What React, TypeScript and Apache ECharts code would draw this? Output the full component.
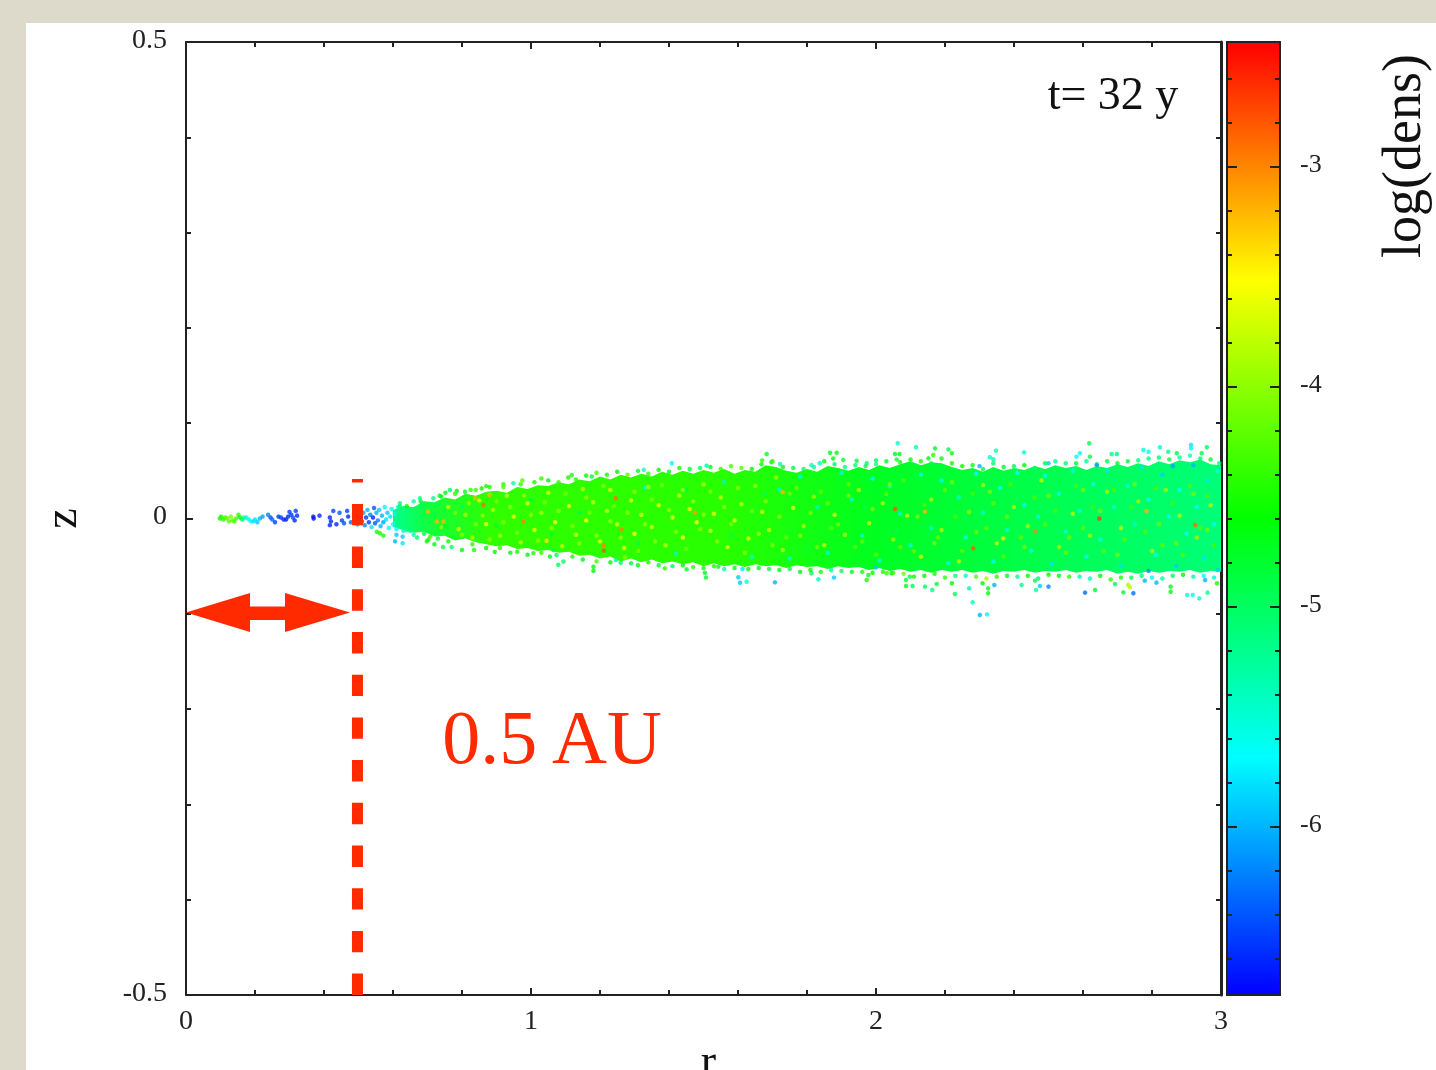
import React, { useEffect, useRef } from "react";
import * as echarts from "echarts";

type P = number[];
const jetStops = ["#0000ff", "#00ffff", "#00ff00", "#ffff00", "#ff0000"];
const densMin = -6.765;
const densMax = -2.433;
const densMajor = [-6, -5, -4, -3];
const densMinor = [-6.6, -6.4, -6.2, -6, -5.8, -5.6, -5.4, -5.2, -5, -4.8, -4.6, -4.4, -4.2, -4, -3.8, -3.6, -3.4, -3.2, -3, -2.8, -2.6];

// dense core of the disc: envelope (r, upper z, lower z)
const bandR = [.6,
.63,.66,.69,.72,.75, .78,.81,.84,.87,.9, .93,.96,.99,1.02,1.05, 1.08,1.11,1.14,1.17,1.2, 1.23,1.26,1.29,1.32,1.35, 1.38,1.41,1.44,1.47,1.5, 1.53,1.56,1.59,1.62,1.65, 1.68,1.71,1.74,1.77,1.8,
1.83,1.86,1.89,1.92,1.95, 1.98,2.01,2.04,2.07,2.1, 2.13,2.16,2.19,2.22,2.25, 2.28,2.31,2.34,2.37,2.4, 2.43,2.46,2.49,2.52,2.55, 2.58,2.61,2.64,2.67,2.7, 2.73,2.76,2.79,2.82,2.85, 2.88,2.91,2.94,2.97,3];
const bandUpper = [.009,
.013,.012,.018,.017,.022, .02,.026,.024,.028,.029, .027,.033,.031,.035,.034, .038,.036,.041,.039,.044, .041,.046,.043,.047,.044, .049,.046,.05,.047,.051, .048,.052,.047,.051,.049, .056,.054,.05,.048,.052,
.049,.055,.053,.05,.054, .051,.056,.053,.057,.06, .056,.059,.058,.054,.051, .053,.049,.054,.05,.053, .051,.055,.052,.056,.053, .055,.051,.055,.053,.057, .054,.058,.055,.06,.057, .061,.059,.062,.057,.056];
const bandLower = [-.009,
-.012,-.015,-.014,-.019,-.018, -.023,-.021,-.025,-.027,-.029, -.028,-.032,-.031,-.034,-.033, -.036,-.035,-.039,-.038,-.042, -.04,-.045,-.042,-.046,-.043, -.047,-.045,-.048,-.046,-.05, -.047,-.05,-.048,-.051,-.048, -.05,-.049,-.052,-.049,-.051,
-.05,-.053,-.05,-.052,-.051, -.054,-.052,-.055,-.053,-.056, -.054,-.057,-.054,-.056,-.054, -.057,-.055,-.058,-.055,-.056, -.054,-.057,-.055,-.056,-.054, -.057,-.055,-.056,-.054,-.058, -.056,-.058,-.055,-.057,-.055, -.056,-.054,-.057,-.055,-.056];

const innerTail: P[] = [
[.098,0,-4.5],[.102,.002,-4.5],[.108,-.001,-4.4],[.114,.001,-4.3],[.12,0,-4.2],[.125,-.003,-4.2],[.13,.002,-4.1],[.135,-.002,-4.2],[.14,-.003,-4.3],[.145,0,-4.3],[.152,.004,-4.4],[.157,.001,-4.6],[.163,-.001,-5],[.168,.001,-5.3],[.175,.001,-5.5],[.182,-.001,-5.6],[.188,-.003,-5.7],[.195,-.003,-5.8],[.2,-.001,-5.8],[.207,-.004,-5.9],[.214,0,-6],[.222,.002,-6.1],[.238,.004,-6.2],[.245,.001,-6.4],[.25,-.001,-6.3],[.258,-.004,-6.5],[.268,.002,-6.5],[.275,.001,-6.5],[.283,-.001,-6.6],[.29,-.001,-6.6],[.296,.002,-6.6],[.3,.007,-6.5],[.305,.004,-6.5],[.31,.001,-6.4],[.315,-.002,-6.6],[.318,.008,-6.5],[.322,.003,-6.6],
[.369,.002,-6.7],[.37,0,-6.7],[.387,.003,-6.6],[.427,.008,-6.5],[.417,.001,-6.6],[.42,-.003,-6.6],[.417,-.007,-6.6],[.436,-.006,-6.6],[.445,.006,-6.4],[.452,-.002,-6.5],[.458,-.005,-6.4],[.467,.008,-6.5],[.47,.002,-6.6],[.478,-.004,-6.3],[.49,.003,-6.5],[.497,-.006,-6.2],[.5,.007,-6.5],
];
const innerCloud: P[] = [
[.505,.002,-6.4],[.51,-.003,-6.3],[.514,.006,-6.1],[.518,-.007,-6.2],[.522,.001,-6.5],[.526,.009,-6],[.53,-.004,-6.5],[.534,.004,-6.2],[.538,-.009,-5.8],[.542,.001,-6.6],[.545,.011,-6.4],[.548,-.005,-6.4],[.552,.006,-6],[.556,-.002,-6.2],[.56,.009,-5.9],[.564,-.008,-6],[.568,.003,-6],[.572,-.004,-6.1],[.576,.012,-5.7],[.58,-.001,-5.8],[.584,.006,-5.9],[.588,-.01,-5.6],[.592,.002,-5.8],[.596,.01,-5.6],[.6,-.006,-5.7],[.605,.005,-5.5],[.61,-.011,-5.6],[.615,.012,-5.5],[.62,.016,-5.2],[.63,-.013,-5.4],[.64,.013,-4.6],
[.562,-.0155,-4.5],[.553,-.014,-4.5],[.572,-.018,-4.5],[.61,-.017,-5.9],[.606,-.024,-6],[.628,-.019,-5.9],[.628,-.026,-5.8],[.703,-.022,-4.5],[.708,-.019,-4.4],[.698,-.024,-4.6],[.66,.018,-5.3],[.678,.0212,-5.2],[.717,.0212,-5.2],[.765,.0299,-5],[.809,.028,-4.8],[.857,.0316,-4.6],[.949,.037,-5.3],[1.108,.043,-4.5],[1.118,.0456,-4.5],
[.65,-.013,-5.2],[.66,-.017,-5.4],[.67,-.02,-5.1],[.685,.016,-5],[.69,-.016,-4.9],[.72,-.027,-4.7],[.735,.024,-4.8],[.745,-.03,-4.9],[.752,.027,-4.7],[.77,-.03,-5],[.785,.029,-4.6],[.8,-.033,-4.6],[.825,.03,-4.4],[.835,-.033,-4.5],[.87,.034,-4.5],[.895,-.035,-4.6],[.92,.036,-4.4],[.94,-.036,-4.7],[.975,.04,-4.3],[1.007,-.0363,-4.5],[1.03,.042,-4.4],[1.055,-.04,-4.6],[1.065,-.033,-4.8],[1.074,-.0383,-5],[1.079,-.0486,-5],[1.094,-.0451,-5],
];
const topOutliers: P[] = [
[1.408,.058,-5.7],[1.509,.0555,-5.3],[1.327,.051,-5.4],[1.176,.044,-4.8],[1.683,.0677,-4.8],[1.722,.0572,-5.3],[1.697,.059,-4.8],[1.668,.057,-4.7],[1.867,.069,-4.7],[1.886,.069,-4.7],[1.876,.063,-4.7],[1.905,.0615,-4.8],[1.813,.056,-5.4],[1.837,.058,-5.4],[1.944,.0606,-4.9],[1.973,.058,-5],[2,.061,-5],[2.063,.0789,-5.5],[2.055,.0677,-4.7],[2.068,.0677,-4.7],[2.06,.062,-4.9],
[2.116,.0747,-5.3],[2.171,.0736,-4.7],[2.21,.0725,-4.9],[2.22,.0684,-4.5],[2.166,.0667,-4.4],[2.152,.0631,-4.7],[2.348,.0712,-5.3],[2.33,.0642,-5.5],[2.34,.0621,-5.4],[2.429,.0694,-5.5],[2.618,.0789,-4.9],[2.591,.0684,-5.6],[2.581,.0649,-5.6],[2.683,.0677,-5.2],[2.698,.0677,-5.1],[2.62,.0649,-4.9],[2.775,.0719,-5.5],[2.79,.0701,-5.6],[2.823,.0747,-5.5],[2.847,.0701,-5.2],[2.872,.0684,-4.9],[2.913,.0771,-5.8],[2.913,.0736,-5.7],[2.959,.0747,-5],[2.944,.0684,-4.9],
];
const bottomOutliers: P[] = [
[1.181,-.0506,-4.6],[1.181,-.055,-4.6],[1.26,-.0464,-5],[1.246,-.0436,-5.3],[1.272,-.041,-4],[1.388,-.0523,-4.4],[1.451,-.0534,-4.8],[1.504,-.0569,-4.8],[1.507,-.062,-4.8],[1.543,-.0505,-4.7],[1.601,-.0616,-5.9],[1.613,-.053,-5.8],[1.606,-.0674,-5.9],[1.625,-.0664,-5.5],[1.707,-.067,-6],[1.813,-.0575,-5],[1.833,-.0638,-5.4],[1.878,-.062,-5.9],[1.973,-.0645,-4.5],[1.978,-.0593,-4.7],[2,-.0514,-5.9],[2.031,-.0575,-4.4],[2.045,-.0575,-4.6],[2.087,-.0645,-4.8],[2.087,-.0709,-4.8],[2.098,-.061,-4.9],
[2.106,-.0708,-5],[2.142,-.0715,-5],[2.163,-.075,-5.2],[2.176,-.0687,-4.9],[2.22,-.068,-4.7],[2.229,-.0792,-5],[2.27,-.0733,-5.3],[2.28,-.0879,-5.4],[2.301,-.1013,-6],[2.322,-.1006,-5.7],[2.309,-.068,-4.6],[2.325,-.0733,-4.7],[2.325,-.0785,-4.7],[2.343,-.0698,-6],[2.422,-.0698,-5.2],[2.461,-.0652,-5],[2.464,-.075,-5.3],[2.475,-.0708,-5.9],[2.5,-.0715,-6.2],[2.606,-.0778,-6.3],[2.635,-.075,-4.8],[2.693,-.0687,-5],[2.717,-.0775,-4.8],[2.731,-.0698,-3.9],[2.736,-.0722,-3.8],[2.746,-.0785,-6.3],[2.779,-.0652,-6],[2.813,-.0673,-6],[2.854,-.0715,-4.7],[2.854,-.0768,-4.7],[2.902,-.0803,-5.6],[2.918,-.0803,-5.6],[2.937,-.0838,-5.5],[2.961,-.0778,-5.2],[2.954,-.0645,-6],[2.988,-.068,-4.5],
];
const hotSpecks: P[] = [
[2.647,0,-2.7],[2.925,-.0068,-2.9],[2.461,-.0132,-3],[2.282,-.0313,-2.8],[2.142,.0072,-3.2],[2.369,-.0209,-3.4],[2.784,.0079,-3.2],[1.245,.0212,-2.9],[1.263,-.012,-3],[1.211,-.0279,-3],[1.211,-.0337,-2.8],[1.475,.0062,-3.1],[2.055,.01,-2.8],[1.73,.0275,-3.2],[.862,.0142,-2.9],[.727,-.0033,-3.2],[.746,-.0033,-3.2],[.702,.0072,-3.2],[.978,-.0033,-3],[.838,.0212,-3.2],[.88,.0247,-3.2],[1.045,-.0233,-3.4],
];
const yellowSpecks: P[] = [
[.76,.012,-3.8],[.79,-.011,-3.7],[.81,.004,-3.9],[.83,-.02,-3.8],[.85,.019,-3.7],[.87,-.006,-3.6],[.89,.009,-3.8],[.91,-.018,-3.9],[.93,.024,-3.8],[.95,.002,-3.6],[.97,-.025,-3.8],[.99,.016,-3.7],[1.01,-.012,-3.6],[1.03,.006,-3.9],[1.05,.027,-3.7],[1.07,-.004,-3.6],[1.09,-.029,-3.8],[1.11,.013,-3.6],[1.13,-.017,-3.7],[1.15,.031,-3.8],[1.16,-.002,-3.5],[1.18,.017,-3.7],[1.2,-.024,-3.6],[1.22,.008,-3.8],[1.23,.03,-3.7],[1.25,-.006,-3.7],[1.27,-.031,-3.6],[1.29,.019,-3.7],[1.3,-.016,-3.5],[1.32,.004,-3.7],[1.34,.033,-3.8],[1.35,-.009,-3.7],[1.37,.014,-3.6],[1.39,-.028,-3.8],[1.41,.001,-3.6],[1.43,.024,-3.7],[1.44,-.02,-3.5],[1.46,.01,-3.6],[1.48,-.004,-3.5],[1.5,.036,-3.8],[1.52,-.013,-3.7],[1.53,.005,-3.6],[1.55,.022,-3.8],[1.57,-.03,-3.7],[1.59,-.002,-3.6],[1.61,.015,-3.8],[1.63,-.021,-3.7],[1.65,.034,-3.9],[1.67,.007,-3.7],[1.69,-.012,-3.8],[1.71,.043,-3.9],[1.73,-.033,-3.8],[1.76,.011,-3.7],[1.79,-.008,-3.8],[1.82,.023,-3.9],[1.85,-.028,-3.8],[1.88,.004,-3.7],[1.91,-.017,-3.9],[1.95,.03,-3.8],[1.98,-.005,-3.8],[2.02,.016,-3.9],[2.05,-.022,-3.9],[2.09,.003,-3.8],[2.13,-.04,-3.7],[2.16,.02,-3.9],[2.19,-.012,-3.8],[2.24,-.045,-3.8],[2.27,.007,-3.9],[2.31,.035,-3.9],[2.35,-.026,-3.8],[2.4,.012,-3.9],[2.44,-.008,-3.9],[2.48,.04,-3.8],[2.53,-.03,-3.9],[2.57,.005,-3.8],[2.62,-.018,-3.9],[2.67,.028,-3.9],[2.71,-.01,-3.8],[2.76,.018,-3.9],[2.8,-.034,-3.8],[2.84,.03,-3.9],[2.88,.003,-3.8],[2.93,-.02,-3.9],[2.97,.014,-3.8],
];
const limeSpecks: P[] = [
[.74,-.009,-4],[.78,.006,-4.1],[.8,-.017,-4],[.82,.016,-4],[.84,-.006,-4.1],[.86,.003,-4],[.88,-.022,-4],[.9,.018,-4.1],[.92,-.004,-4],[.94,.012,-4],[.96,-.015,-4.1],[.98,.024,-4],[1,.004,-4],[1.02,-.023,-4],[1.04,.017,-4.1],[1.06,-.01,-4],[1.08,.008,-4],[1.1,.026,-4.1],[1.12,-.008,-4],[1.14,-.026,-4],[1.16,.022,-4],[1.17,.006,-4.1],[1.19,-.018,-4],[1.21,.034,-4],[1.23,-.003,-4],[1.24,.013,-4.1],[1.26,-.02,-4],[1.28,.006,-4],[1.3,.028,-4],[1.31,-.034,-4.1],[1.33,-.006,-4],[1.35,.02,-4],[1.36,-.024,-4],[1.38,.035,-4.1],[1.4,.009,-4],[1.42,-.014,-4],[1.44,.03,-4],[1.45,-.032,-4.1],[1.47,.018,-4],[1.49,-.011,-4],[1.5,.004,-4],[1.52,.028,-4.1],[1.54,-.024,-4],[1.56,.012,-4],[1.58,-.006,-4.1],[1.6,.032,-4],[1.62,-.036,-4],[1.64,.008,-4.1],[1.66,-.016,-4],[1.68,.018,-4],[1.7,-.028,-4.1],[1.72,.002,-4],[1.75,.026,-4.1],[1.78,-.018,-4],[1.81,.006,-4.1],[1.83,-.03,-4.1],[1.86,.016,-4.1],[1.89,-.006,-4.1],[1.92,.024,-4.1],[1.96,-.024,-4.1],[1.99,.01,-4.1],[2.04,.036,-4.1],[2.07,-.03,-4.1],[2.12,.002,-4.1],[2.17,-.026,-4.1],[2.22,.038,-4.1],[2.29,-.014,-4.1],[2.33,.028,-4.1],[2.38,.002,-4.1],[2.43,-.03,-4.1],[2.5,.024,-4.1],[2.56,-.02,-4.1],[2.6,.03,-4.1],[2.65,.008,-4.1],[2.7,-.038,-4.1],[2.75,.036,-4.1],[2.82,-.006,-4.1],[2.87,-.026,-4.1],[2.92,.026,-4.1],[2.96,-.012,-4.1],
];
const cyanSpecks: P[] = [
[1.33,.032,-5.5],[1.42,-.037,-5.4],[1.56,.038,-5.4],[1.64,-.04,-5.5],[1.72,.03,-5.5],[1.75,-.042,-5.5],[1.78,.044,-5.6],[1.83,.012,-5.4],[1.86,-.036,-5.6],[1.9,.048,-5.6],[1.93,.02,-5.5],[1.96,-.018,-5.5],[1.99,.042,-5.7],[2.01,-.044,-5.6],[2.04,.034,-5.6],[2.07,.005,-5.5],[2.1,-.028,-5.6],[2.13,.046,-5.6],[2.16,-.01,-5.5],[2.19,.04,-5.7],[2.21,-.047,-5.6],[2.24,.022,-5.5],[2.26,-.02,-5.6],[2.29,.047,-5.7],[2.31,.006,-5.5],[2.34,-.045,-5.7],[2.36,.032,-5.6],[2.38,-.012,-5.5],[2.41,.048,-5.7],[2.43,.014,-5.6],[2.45,-.034,-5.6],[2.47,.002,-5.5],[2.49,.045,-5.7],[2.51,-.048,-5.8],[2.53,.026,-5.6],[2.55,-.014,-5.5],[2.57,.05,-5.7],[2.59,.008,-5.6],[2.61,-.04,-5.7],[2.63,.036,-5.6],[2.65,-.022,-5.6],[2.67,.05,-5.8],[2.69,.012,-5.5],[2.71,-.05,-5.8],[2.73,.034,-5.6],[2.75,-.006,-5.5],[2.77,.054,-5.8],[2.79,.02,-5.6],[2.81,-.038,-5.7],[2.83,.046,-5.9],[2.85,.002,-5.6],[2.87,-.05,-5.9],[2.88,.03,-5.7],[2.9,-.016,-5.6],[2.92,.056,-6],[2.93,.012,-5.7],[2.95,-.042,-5.8],[2.96,.04,-5.8],[2.98,-.006,-5.7],[2.99,.05,-5.6],[2.99,-.054,-5.9],[2.86,.055,-6.1],[2.79,-.055,-6.2],[2.64,.056,-6.1],[2.5,.058,-5.9],[2.3,.055,-6],
];
const topEdge: P[] = [
[.62,.013,-5],[.68,.018,-4.8],[.74,.023,-4.6],[.78,.026,-4.4],[.84,.03,-4.4],[.88,.033,-4.5],[.92,.033,-4.3],[.97,.036,-4.4],[1.01,.038,-4.5],[1.05,.04,-4.6],[1.08,.038,-4.4],[1.13,.041,-4.5],[1.16,.045,-4.6],[1.19,.048,-4.3],[1.22,.046,-4.5],[1.25,.049,-4.6],[1.28,.046,-4.2],[1.31,.05,-4.8],[1.34,.047,-4.4],[1.37,.051,-4.6],[1.4,.049,-4.7],[1.43,.053,-4.5],[1.46,.052,-4.8],[1.49,.053,-5],[1.52,.054,-4.7],[1.55,.052,-4.4],[1.58,.055,-4.3],[1.61,.053,-4.2],[1.64,.052,-4.6],[1.67,.061,-4.4],[1.7,.06,-4.4],[1.73,.054,-4.7],[1.76,.053,-4.9],[1.79,.052,-5.1],[1.82,.054,-5.3],[1.85,.06,-4.6],[1.88,.057,-5],[1.91,.054,-5.2],[1.94,.056,-5.1],[1.97,.055,-5],[2,.057,-5.2],[2.03,.06,-4.7],[2.07,.059,-4.5],[2.1,.062,-4.6],[2.13,.06,-4.5],[2.16,.058,-4.9],[2.19,.063,-4.7],[2.22,.058,-4.5],[2.25,.055,-4.6],[2.28,.056,-4.7],[2.31,.052,-4.9],[2.34,.058,-5],[2.37,.054,-4.7],[2.4,.055,-5],[2.43,.056,-4.6],[2.46,.053,-5.1],[2.49,.058,-4.8],[2.52,.06,-5.3],[2.55,.058,-5.1],[2.58,.058,-4.8],[2.61,.06,-5.2],[2.64,.057,-5],[2.67,.06,-4.9],[2.7,.058,-4.7],[2.73,.06,-4.9],[2.76,.061,-5.1],[2.79,.063,-5.2],[2.82,.064,-5.1],[2.85,.062,-4.9],[2.88,.064,-5.3],[2.91,.066,-5.4],[2.94,.063,-5.1],[2.97,.062,-4.8],[2.995,.058,-5.1],
];
const bottomEdge: P[] = [
[.64,-.012,-5.2],[.73,-.021,-4.8],[.76,-.024,-4.5],[.83,-.027,-4.4],[.87,-.031,-4.6],[.91,-.031,-4.4],[.96,-.035,-4.5],[.99,-.038,-4.7],[1.03,-.036,-4.4],[1.12,-.04,-4.5],[1.15,-.043,-4.6],[1.19,-.045,-4.3],[1.23,-.046,-4.6],[1.29,-.047,-4.9],[1.31,-.049,-4.7],[1.34,-.046,-4.5],[1.37,-.049,-4.8],[1.41,-.05,-5],[1.44,-.049,-4.6],[1.47,-.051,-4.4],[1.5,-.052,-4.5],[1.53,-.05,-4.5],[1.56,-.053,-5.3],[1.59,-.052,-4.7],[1.63,-.053,-4.6],[1.66,-.052,-4.8],[1.69,-.053,-4.9],[1.72,-.054,-4.7],[1.75,-.053,-5],[1.78,-.056,-4.7],[1.81,-.054,-4.6],[1.84,-.056,-4.5],[1.87,-.054,-5.2],[1.9,-.055,-5],[1.93,-.056,-4.7],[1.96,-.056,-4.5],[1.99,-.057,-4.6],[2.02,-.056,-4.5],[2.05,-.057,-4.4],[2.08,-.058,-4.1],[2.11,-.061,-4.5],[2.14,-.06,-4.6],[2.17,-.058,-4.5],[2.2,-.062,-4.4],[2.23,-.06,-5.1],[2.26,-.06,-5.4],[2.29,-.061,-4.2],[2.32,-.063,-3.9],[2.35,-.061,-4.4],[2.38,-.06,-4.7],[2.41,-.061,-5.2],[2.44,-.06,-4.6],[2.47,-.063,-5.1],[2.5,-.059,-4.6],[2.53,-.06,-4.7],[2.56,-.061,-4.4],[2.59,-.061,-5.3],[2.62,-.063,-5.4],[2.65,-.06,-4.6],[2.68,-.064,-4.4],[2.71,-.062,-4.5],[2.74,-.062,-4.9],[2.77,-.06,-5.1],[2.8,-.062,-5.7],[2.83,-.063,-5.3],[2.86,-.06,-5],[2.89,-.059,-4.6],[2.92,-.061,-5.3],[2.95,-.06,-5.7],[2.98,-.062,-5.5],
];
const coreGreens: P[] = [
[.72,.004,-4.9],[.75,-.008,-4.7],[.8,.012,-4.9],[.9,-.008,-4.8],[1,.02,-4.9],[1.06,-.016,-4.8],[1.14,.006,-4.9],[1.31,-.026,-4.9],[1.45,.03,-4.9],[1.58,-.018,-4.9],[1.68,.026,-4.9],[1.74,-.02,-4.2],[1.77,.032,-4.2],[1.8,-.032,-4.9],[1.84,.028,-4.2],[1.87,-.01,-4.2],[1.92,.036,-4.2],[1.94,-.03,-4.2],[1.97,.012,-4.9],[2,-.038,-4.2],[2.03,.026,-4.2],[2.06,-.012,-4.9],[2.08,.04,-4.3],[2.11,-.034,-4.2],[2.14,.014,-4.3],[2.18,-.02,-4.2],[2.2,.03,-4.2],[2.23,.002,-4.3],[2.25,-.034,-4.2],[2.28,.026,-4.3],[2.32,-.01,-4.2],[2.34,.016,-4.2],[2.37,-.04,-4.3],[2.39,.036,-4.3],[2.42,-.02,-4.2],[2.46,.022,-4.3],[2.49,-.006,-4.2],[2.52,.008,-4.3],[2.55,-.036,-4.2],[2.58,.034,-4.3],[2.6,-.01,-4.2],[2.63,.012,-4.3],[2.66,-.034,-4.2],[2.69,.03,-4.3],[2.72,-.022,-4.2],[2.74,.012,-4.3],[2.78,-.014,-4.2],[2.81,.032,-4.3],[2.83,-.028,-4.2],[2.86,.016,-4.3],[2.89,-.038,-4.2],[2.91,.034,-4.3],[2.94,-.01,-4.2],[2.96,.024,-4.3],[2.98,-.028,-4.3],
];

const splitR = [0.497, 0.497];
const splitZ = [-0.5, 0.0415];
const arrowPoints = [[186, 612.5], [250, 593], [250, 606.5], [285, 606.5], [285, 593], [350, 612.5], [285, 632], [285, 620], [250, 620], [250, 632]];
const RED = "#ff2a00";
const INK = "#222222";
const SERIF = "'Liberation Serif', serif";

const bandGradient = {
  type: "linear", x: 0, y: 0, x2: 1, y2: 0,
  colorStops: [
    { offset: 0, color: "#00ff90" },
    { offset: 0.04, color: "#10ff40" },
    { offset: 0.12, color: "#30ff00" },
    { offset: 0.4, color: "#28ff00" },
    { offset: 0.58, color: "#00ff20" },
    { offset: 0.8, color: "#00ff50" },
    { offset: 1, color: "#00ff78" },
  ],
};

const App = () => {
  const ref = useRef<HTMLDivElement>(null);
  useEffect(() => {
    document.body.style.margin = "0";
    const chart = echarts.init(ref.current!, null, { renderer: "svg" });
    const frame = { show: true, onZero: false, lineStyle: { color: INK, width: 2 } };
    const xBase = { type: "value", min: 0, max: 3, interval: 1, splitLine: { show: false }, gridIndex: 0 };
    const yBase = { type: "value", min: -0.5, max: 0.5, interval: 0.5, splitLine: { show: false }, gridIndex: 0 };
    const inTick = { show: true, inside: true, length: 7, lineStyle: { color: INK, width: 2 } };
    const inMinor = { show: true, splitNumber: 5, length: 5, lineStyle: { color: INK, width: 2 } };
    const densBase = { type: "value", gridIndex: 1, min: densMin, max: densMax, splitLine: { show: false }, z: 10 };
    const labelStyle = { fontFamily: SERIF, fontSize: 28, color: INK };
    chart.setOption({
      animation: false,
      backgroundColor: "transparent",
      grid: [
        { left: 186, top: 42, width: 1035, height: 953, outerBoundsMode: "none" },
        { left: 1227, top: 42, width: 53, height: 953, outerBoundsMode: "none" },
      ],
      xAxis: [
        { ...xBase, position: "bottom", axisLine: frame, axisTick: inTick, minorTick: inMinor,
          axisLabel: { ...labelStyle, margin: 10 },
          name: "r", nameLocation: "middle", nameGap: 12,
          nameTextStyle: { fontFamily: SERIF, fontSize: 46, color: "#111", padding: [0, 0, 0, 10] } },
        { ...xBase, position: "top", axisLine: frame, axisTick: inTick, minorTick: inMinor, axisLabel: { show: false } },
        { type: "value", gridIndex: 1, min: 0, max: 1, position: "bottom", axisLine: frame, axisTick: { show: false }, axisLabel: { show: false }, splitLine: { show: false }, z: 10 },
        { type: "value", gridIndex: 1, min: 0, max: 1, position: "top", axisLine: frame, axisTick: { show: false }, axisLabel: { show: false }, splitLine: { show: false }, z: 10 },
      ],
      yAxis: [
        { ...yBase, position: "left", axisLine: frame, axisTick: inTick, minorTick: inMinor,
          axisLabel: { ...labelStyle, margin: 19, verticalAlign: "bottom", lineHeight: 8 },
          name: "z", nameLocation: "middle", nameGap: 95,
          nameTextStyle: { fontFamily: SERIF, fontSize: 46, color: "#111", padding: [0, 0, 8, 0] } },
        { ...yBase, position: "right", axisLine: { ...frame, lineStyle: { color: INK, width: 3 } }, axisTick: inTick, minorTick: inMinor, axisLabel: { show: false } },
        { ...densBase, position: "left", axisLine: frame, axisTick: { show: true, inside: true, length: 5, customValues: densMinor, lineStyle: { color: INK, width: 2 } }, axisLabel: { show: false } },
        { ...densBase, position: "left", axisLine: { show: false, onZero: false }, axisTick: { show: true, inside: true, length: 10, customValues: densMajor, lineStyle: { color: INK, width: 2 } }, axisLabel: { show: false } },
        { ...densBase, position: "right", axisLine: frame, axisTick: { show: true, inside: true, length: 5, customValues: densMinor, lineStyle: { color: INK, width: 2 } }, axisLabel: { show: false } },
        { ...densBase, position: "right", axisLine: { show: false, onZero: false }, axisTick: { show: true, inside: true, length: 10, customValues: densMajor, lineStyle: { color: INK, width: 2 } },
          axisLabel: { ...labelStyle, fontSize: 26, margin: 20, verticalAlign: "bottom", lineHeight: 6, customValues: densMajor, formatter: (v: number) => String(Math.round(v)) } },
      ],
      visualMap: {
        type: "continuous", show: true, seriesIndex: 2, dimension: 2, min: densMin, max: densMax,
        inRange: { color: jetStops }, left: 1227, top: 42, itemWidth: 53, itemHeight: 953,
        padding: 0, calculable: false, hoverLink: false, realtime: false, z: 1,
        textStyle: { fontSize: 1, color: "transparent" }, text: ["", ""], textGap: 0, borderWidth: 0,
      },
      series: [
        { type: "line", xAxisIndex: 0, yAxisIndex: 0, data: bandR.map((r, i) => [r, bandUpper[i]]), showSymbol: false, silent: true, lineStyle: { width: 0 }, areaStyle: { color: bandGradient, opacity: 1, origin: -0.003 }, z: 1 },
        { type: "line", xAxisIndex: 0, yAxisIndex: 0, data: bandR.map((r, i) => [r, bandLower[i]]), showSymbol: false, silent: true, lineStyle: { width: 0 }, areaStyle: { color: bandGradient, opacity: 1, origin: 0.003 }, z: 1 },
        { type: "scatter", xAxisIndex: 0, yAxisIndex: 0, symbolSize: 4.5, silent: true, z: 2,
          data: [...innerTail, ...innerCloud, ...topOutliers, ...bottomOutliers, ...topEdge, ...bottomEdge, ...coreGreens, ...cyanSpecks, ...limeSpecks, ...yellowSpecks, ...hotSpecks] },
        { type: "line", xAxisIndex: 0, yAxisIndex: 0, data: splitR.map((r, i) => [r, splitZ[i]]), showSymbol: false, silent: true, clip: false, lineStyle: { color: RED, width: 11, type: [21.4, 21.3], cap: "butt" }, z: 5 },
      ],
      graphic: [
        { type: "polygon", shape: { points: arrowPoints }, style: { fill: RED }, z: 20 },
        { type: "text", x: 1113, y: 93, style: { text: "t= 32 y", font: `46px ${SERIF}`, fill: "#111", align: "center", verticalAlign: "middle" }, z: 20 },
        { type: "text", x: 552, y: 737, style: { text: "0.5 AU", font: `76px ${SERIF}`, fill: RED, align: "center", verticalAlign: "middle" }, z: 20 },
        { type: "text", x: 1402, y: 156, rotation: Math.PI / 2, style: { text: "log(dens)", font: `54px ${SERIF}`, fill: "#111", align: "center", verticalAlign: "middle" }, z: 20 },
      ],
    });
    return () => chart.dispose();
  }, []);
  return (
    <div style={{ position: "relative", width: 1436, height: 1070, overflow: "hidden", background: "#dedacb" }}>
      <div style={{ position: "absolute", left: 26, top: 23, right: 0, bottom: 0, background: "#ffffff" }} />
      <div ref={ref} style={{ position: "absolute", left: 0, top: 0, width: 1436, height: 1070, filter: "blur(0.5px)" }} />
    </div>
  );
};

export default App;
